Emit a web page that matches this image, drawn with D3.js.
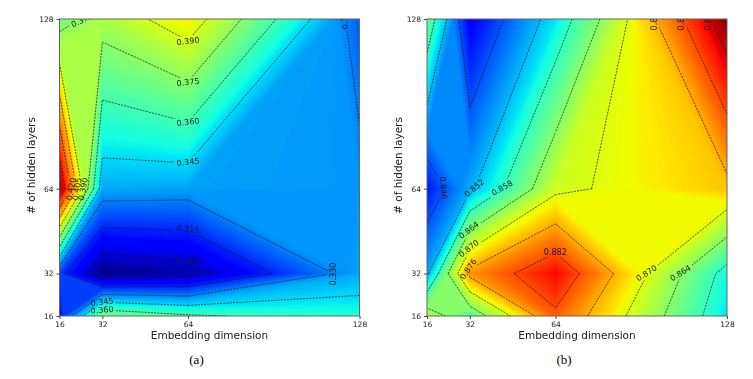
<!DOCTYPE html>
<html>
<head>
<meta charset="utf-8">
<script src="https://cdn.jsdelivr.net/npm/d3@7"></script>
<style>
  html, body { margin: 0; padding: 0; background: #fff; }
  svg { display: block; }
  text { font-family: "DejaVu Sans", sans-serif; fill: #1a1a1a; }
  .caption { font-family: "Liberation Serif", serif; font-size: 13px; fill: #000; }
</style>
</head>
<body>
<script>
const embeddingDims = [16, 32, 64, 128];
const hiddenLayers = [16, 32, 64, 128];

// rows follow hiddenLayers, columns follow embeddingDims
const lossRows = [
  [0.3125, 0.372, 0.362, 0.353],
  [0.319, 0.289, 0.294, 0.3365],
  [0.45, 0.337, 0.3355, 0.3336],
  [0.369, 0.381, 0.398, 0.324],
];
const accuracyRows = [
  [0.867, 0.86, 0.881, 0.8542],
  [0.851, 0.8775, 0.8862, 0.856],
  [0.8425, 0.851, 0.8688, 0.8745],
  [0.862, 0.8405, 0.8544, 0.8915],
];

const lossLevels = [0.3, 0.315, 0.33, 0.345, 0.36, 0.375, 0.39, 0.405, 0.42, 0.435];
const accuracyLevels = [0.846, 0.852, 0.858, 0.864, 0.87, 0.876, 0.882, 0.888];

const lossRange = [0.288, 0.455];
const accuracyRange = [0.834, 0.892];

// contour labels: level, embedding dim, hidden layers, rotation
const lossLabels = [
  [0.375, 24.4, 127.6, -25],
  [0.39, 64, 119.7, -7],
  [0.375, 64, 104.2, -7],
  [0.36, 64, 89.2, -7],
  [0.345, 64, 74.1, -7],
  [0.315, 64, 48.8, 5],
  [0.3, 64, 37.1, 7],
  [0.33, 118.1, 31.8, -90],
  [0.345, 31.9, 21.3, -7],
  [0.36, 31.9, 18.3, -4],
  [0.42, 20.3, 63.9, -80],
  [0.405, 22.5, 63.9, -80],
  [0.39, 24.8, 63.9, -80],
  [0.33, 122.2, 128.4, -97],
];
const accuracyLabels = [
  [0.846, 22.2, 64.3, 85],
  [0.852, 33.6, 64.3, -40],
  [0.858, 44, 64.3, -30],
  [0.864, 31.6, 48.4, -38],
  [0.87, 31.6, 41.5, -38],
  [0.876, 31.4, 33.7, -55],
  [0.882, 63.9, 40.2, 0],
  [0.87, 97.9, 32.2, -32],
  [0.864, 110.6, 32.2, -32],
  [0.876, 100.9, 128, -90],
  [0.882, 111, 128, -90],
  [0.888, 121.1, 128, -90],
];

const jetStops = [
  [0, [0, 0, 127]],
  [0.11, [0, 0, 255]],
  [0.125, [0, 0, 255]],
  [0.35, [0, 228, 247]],
  [0.375, [20, 255, 226]],
  [0.64, [237, 255, 1]],
  [0.66, [255, 234, 0]],
  [0.89, [255, 18, 0]],
  [0.91, [227, 0, 0]],
  [1, [127, 0, 0]],
];
const jet = d3
  .scaleLinear()
  .domain(jetStops.map((d) => d[0]))
  .range(jetStops.map((d) => "rgb(" + d[1].join(",") + ")"));

const svg = d3
  .select("body")
  .append("svg")
  .attr("width", 753)
  .attr("height", 379);

const defs = svg.append("defs");
defs
  .append("filter")
  .attr("id", "soft")
  .attr("x", "-5%")
  .attr("y", "-5%")
  .attr("width", "110%")
  .attr("height", "110%")
  .append("feGaussianBlur")
  .attr("stdDeviation", 0.4);

drawPanel("a", lossRows, lossRange, lossLevels, lossLabels, 59.5);
drawPanel("b", accuracyRows, accuracyRange, accuracyLevels, accuracyLabels, 427);

function drawPanel(id, rows, range, levels, labels, left) {
  const width = 300;
  const height = 297;
  const top = 19;

  const x = d3.scaleLinear().domain([16, 128]).range([0, width]);
  const y = d3.scaleLinear().domain([16, 128]).range([height, 0]);
  const color = d3.scaleLinear().domain(range).range([0, 1]).clamp(true);

  const toPath = (points) =>
    "M" + points.map((p) => x(p[0]) + "," + y(p[1])).join("L");

  const g = svg
    .append("g")
    .attr("transform", "translate(" + left + "," + top + ")")
    .attr("filter", "url(#soft)");

  const clipId = "clip-" + id;
  defs
    .append("clipPath")
    .attr("id", clipId)
    .append("rect")
    .attr("width", width)
    .attr("height", height);

  const plot = g.append("g").attr("clip-path", "url(#" + clipId + ")");

  // filled contours with a lot of bands, each band paints over the one below
  const flat = d3.merge(rows);
  const step = (d3.max(flat) - d3.min(flat)) / 240;
  const bands = d3.range(d3.min(flat), d3.max(flat), step);

  plot
    .selectAll(".band")
    .data(bands)
    .enter()
    .append("path")
    .attr("class", "band")
    .attr("d", (d) => bandPolygons(rows, d).map((p) => toPath(p) + "Z").join(""))
    .attr("fill", (d) => jet(color(d + step / 2)))
    .attr("stroke", (d) => jet(color(d + step / 2)))
    .attr("stroke-width", 0.5);

  levels.forEach(function (level, li) {
    // each level only breaks around its own labels
    const maskId = "mask-" + id + "-" + li;
    const mask = defs
      .append("mask")
      .attr("id", maskId)
      .attr("maskUnits", "userSpaceOnUse")
      .attr("x", 0)
      .attr("y", 0)
      .attr("width", width)
      .attr("height", height);
    mask
      .append("rect")
      .attr("width", width)
      .attr("height", height)
      .attr("fill", "white");
    labels
      .filter((d) => d[0] === level)
      .forEach(function (d) {
        mask
          .append("rect")
          .attr("x", -14)
          .attr("y", -5)
          .attr("width", 28)
          .attr("height", 10)
          .attr("fill", "black")
          .attr(
            "transform",
            "translate(" + x(d[1]) + "," + y(d[2]) + ") rotate(" + d[3] + ")"
          );
      });

    plot
      .append("g")
      .attr("mask", "url(#" + maskId + ")")
      .append("path")
      .attr("d", contourSegments(rows, level).map(toPath).join(""))
      .attr("fill", "none")
      .attr("stroke", "#111")
      .attr("stroke-width", 0.7)
      .attr("stroke-dasharray", "2,1.2");
  });

  plot
    .selectAll(".label")
    .data(labels)
    .enter()
    .append("text")
    .attr("class", "label")
    .attr("text-anchor", "middle")
    .attr("dy", "0.35em")
    .attr(
      "transform",
      (d) => "translate(" + x(d[1]) + "," + y(d[2]) + ") rotate(" + d[3] + ")"
    )
    .style("font-size", "8px")
    .text((d) => d[0].toFixed(3));

  g.append("rect")
    .attr("width", width)
    .attr("height", height)
    .attr("fill", "none")
    .attr("stroke", "#666")
    .attr("stroke-width", 1);

  const xAxis = g
    .append("g")
    .attr("transform", "translate(0," + height + ")")
    .call(
      d3.axisBottom(x).tickValues(embeddingDims).tickFormat(d3.format("d")).tickSize(3).tickPadding(3)
    );
  const yAxis = g
    .append("g")
    .call(
      d3.axisLeft(y).tickValues(hiddenLayers).tickFormat(d3.format("d")).tickSize(3).tickPadding(3)
    );
  [xAxis, yAxis].forEach(function (axis) {
    axis.select(".domain").remove();
    axis.selectAll("line").attr("stroke", "#444");
    axis.selectAll("text").style("font-size", "7.5px").style("font-family", null);
  });

  g.append("text")
    .attr("x", width / 2)
    .attr("y", height + 23)
    .attr("text-anchor", "middle")
    .style("font-size", "10.5px")
    .text("Embedding dimension");

  g.append("text")
    .attr("transform", "rotate(-90)")
    .attr("x", -height / 2 + 2)
    .attr("y", -25)
    .attr("text-anchor", "middle")
    .style("font-size", "10.5px")
    .text("# of hidden layers");

  svg
    .append("text")
    .attr("class", "caption")
    .attr("x", left + 137)
    .attr("y", 364)
    .attr("text-anchor", "middle")
    .text("(" + id + ")");
}

// corners and edge crossings of one grid cell at a given level
function cellAt(rows, i, j, level) {
  const x0 = embeddingDims[i];
  const x1 = embeddingDims[i + 1];
  const y0 = hiddenLayers[j];
  const y1 = hiddenLayers[j + 1];
  const a = rows[j][i];
  const b = rows[j][i + 1];
  const c = rows[j + 1][i + 1];
  const d = rows[j + 1][i];

  const cross = (p, q) => (level - p) / (q - p);
  const hit = (p, q) => (p < level) !== (q < level);

  return {
    values: [a, b, c, d],
    corners: [[x0, y0], [x1, y0], [x1, y1], [x0, y1]],
    // edges in walking order a-b, b-c, c-d, d-a
    edges: [
      hit(a, b) ? [x0 + cross(a, b) * (x1 - x0), y0] : null,
      hit(b, c) ? [x1, y0 + cross(b, c) * (y1 - y0)] : null,
      hit(c, d) ? [x1 + cross(c, d) * (x0 - x1), y1] : null,
      hit(d, a) ? [x0, y1 + cross(d, a) * (y0 - y1)] : null,
    ],
    mid: (a + b + c + d) / 4,
  };
}

function forEachCell(rows, level, fn) {
  for (let j = 0; j < hiddenLayers.length - 1; j++) {
    for (let i = 0; i < embeddingDims.length - 1; i++) {
      fn(cellAt(rows, i, j, level));
    }
  }
}

// polygons of the area at or above the level
function bandPolygons(rows, level) {
  const polygons = [];
  forEachCell(rows, level, function (cell) {
    const found = cell.edges.filter(Boolean).length;
    if (found === 4 && cell.mid < level) {
      // saddle with the high corners apart
      cell.values.forEach(function (v, k) {
        if (v >= level) {
          polygons.push([cell.edges[(k + 3) % 4], cell.corners[k], cell.edges[k]]);
        }
      });
      return;
    }
    const polygon = [];
    cell.values.forEach(function (v, k) {
      if (v >= level) polygon.push(cell.corners[k]);
      if (cell.edges[k]) polygon.push(cell.edges[k]);
    });
    if (polygon.length > 2) polygons.push(polygon);
  });
  return polygons;
}

function contourSegments(rows, level) {
  const segments = [];
  forEachCell(rows, level, function (cell) {
    const e = cell.edges;
    const found = e.filter(Boolean);
    if (found.length === 2) {
      segments.push(found);
    } else if (found.length === 4) {
      // saddle, decide with the cell mean
      if (cell.mid < level === cell.values[0] < level) {
        segments.push([e[0], e[1]], [e[2], e[3]]);
      } else {
        segments.push([e[0], e[3]], [e[2], e[1]]);
      }
    }
  });
  return segments;
}
</script>
</body>
</html>
